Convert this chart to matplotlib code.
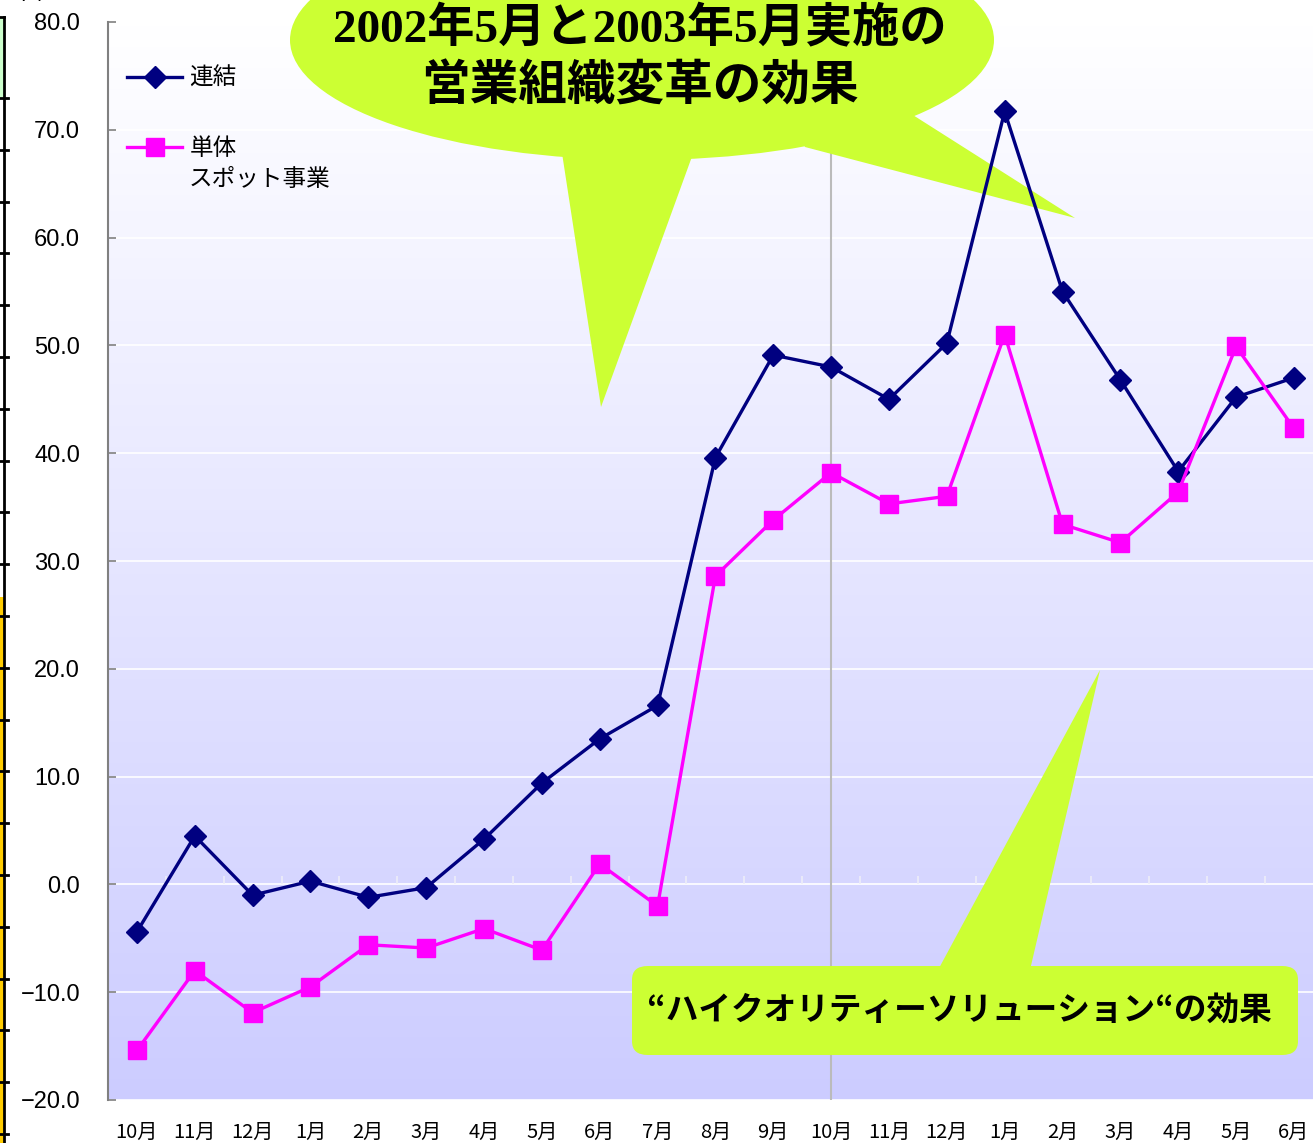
import matplotlib
matplotlib.use("Agg")
import matplotlib.pyplot as plt
import numpy as np
from matplotlib.patches import Ellipse, Polygon, FancyBboxPatch, Rectangle
from matplotlib.lines import Line2D

# ---- data ----
months = ["10月", "11月", "12月", "1月", "2月", "3月", "4月", "5月", "6月", "7月",
          "8月", "9月", "10月", "11月", "12月", "1月", "2月", "3月", "4月", "5月", "6月"]
consolidated = [-4.4, 4.5, -1.0, 0.3, -1.2, -0.3, 4.2, 9.4, 13.5, 16.6,
                39.6, 49.1, 48.0, 45.0, 50.2, 71.7, 55.0, 46.8, 38.3, 45.2, 47.0]
spot = [-15.4, -8.0, -11.9, -9.5, -5.6, -5.9, -4.1, -6.1, 1.9, -2.0,
        28.6, 33.8, 38.2, 35.3, 36.0, 51.0, 33.4, 31.7, 36.4, 49.9, 42.3]
yticks = [-20, -10, 0, 10, 20, 30, 40, 50, 60, 70, 80]
label_consolidated = "連結"
label_spot = "単体"
label_spot2 = "スポット事業"
callout_top = ["2002年5月と2003年5月実施の", "営業組織変革の効果"]
callout_bottom = "“ハイクオリティーソリューション“の効果"
divider_index = 12

W, H = 1313, 1143
NAVY = "#000080"
MAG = "#FF00FF"
LIME = "#CCFF33"
JP = ["Noto Sans CJK JP", "DejaVu Sans"]

def P(x, y):
    return (x / W, 1 - y / H)

fig = plt.figure(figsize=(W / 100, H / 100), dpi=100)
ax = fig.add_axes([108 / W, 1 - 1100 / H, (W - 108) / W, (1100 - 22) / H])

x = np.arange(len(months))
ax.set_xlim(-0.5, 20.33)
ax.set_ylim(-20, 80)

# gradient background
grad = np.linspace(0, 1, 256).reshape(-1, 1)
top = np.array([1.0, 1.0, 1.0])
bot = np.array([204, 204, 255]) / 255
img = top[None, None, :] * (1 - grad[:, :, None]) + bot[None, None, :] * grad[:, :, None]
ax.imshow(img, extent=[0, 1, 0, 1], transform=ax.transAxes, aspect="auto", zorder=0)

ax.set_axisbelow(True)
ax.yaxis.grid(True, color="white", lw=1.2)
ax.set_yticks(yticks)
ax.set_yticklabels([f"{v:.1f}".replace("-", "\u2212") for v in yticks],
                   fontsize=17, family=["Liberation Sans", "DejaVu Sans"])
ax.tick_params(axis="y", direction="in", length=6, width=1.2, color="#808080", pad=20)
ax.set_xticks(x)
ax.set_xticklabels(months, fontsize=14.5, family=JP)
ax.tick_params(axis="x", length=0, pad=16)
for s in ["top", "right", "bottom"]:
    ax.spines[s].set_visible(False)
ax.spines["left"].set_color("#808080")
ax.spines["left"].set_linewidth(1.5)

# category boundary ticks on zero line
ax.vlines(x[:-1] + 0.5, 0, 0.75, color="#EEEEF8", lw=1.2, zorder=1)

# divider line
ax.axvline(divider_index, color="#BBBBBB", lw=1.5, zorder=1)

# callouts
ax.add_patch(Ellipse(P(642, 40), 704 / W, 240 / H, transform=fig.transFigure,
                     color=LIME, ec="none", zorder=2, clip_on=False))
ax.add_patch(Polygon([P(560, 140), P(698, 140), P(601, 407)], closed=True,
                     transform=fig.transFigure, fc=LIME, ec="none", zorder=2, clip_on=False))
ax.add_patch(Polygon([P(800, 135), P(905, 110), P(1075, 218), P(805, 147)], closed=True,
                     transform=fig.transFigure, fc=LIME, ec="none", zorder=2, clip_on=False))
ax.add_patch(FancyBboxPatch(P(632, 1055), 666 / W, 89 / H,
                            boxstyle="round,pad=0,rounding_size=0.012",
                            transform=fig.transFigure, fc=LIME, ec="none", zorder=2, clip_on=False))
ax.add_patch(Polygon([P(938, 970), P(1030, 970), P(1100, 670)], closed=True,
                     transform=fig.transFigure, fc=LIME, ec="none", zorder=2, clip_on=False))

ax.text(*P(640, 30), callout_top[0], transform=fig.transFigure, ha="center", va="center",
        fontsize=34, fontweight="bold", family=["Liberation Serif", "Noto Sans CJK JP"], zorder=3)
ax.text(*P(640, 86), callout_top[1], transform=fig.transFigure, ha="center", va="center",
        fontsize=35, fontweight="bold", family=JP, zorder=3)
ax.text(*P(959, 1010), callout_bottom, transform=fig.transFigure, ha="center", va="center",
        fontsize=23.5, fontweight="bold", family=JP, zorder=3)

# data lines
l1, = ax.plot(x, consolidated, color=NAVY, lw=2.4, marker="D", ms=11, zorder=4)
l2, = ax.plot(x, spot, color=MAG, lw=2.4, marker="s", ms=13, zorder=4)

leg = ax.legend([l1, l2], [label_consolidated, label_spot], loc="upper left",
                bbox_to_anchor=P(127, 67), bbox_transform=fig.transFigure,
                frameon=False, prop={"family": JP, "size": 17},
                handlelength=2.35, handletextpad=0.3, labelspacing=2.0, borderpad=0,
                borderaxespad=0)
leg.set_zorder(5)
ax.text(*P(189, 179), label_spot2, transform=fig.transFigure, ha="left", va="center",
        fontsize=17, family=JP, zorder=5)

# left-edge remnants of neighbouring chart
fig.add_artist(Rectangle(P(0, 98), 4 / W, 81 / H, transform=fig.transFigure,
                         fc="#CCFFCC", ec="none"))
fig.add_artist(Rectangle(P(0, 1143), 4 / W, (1143 - 597) / H, transform=fig.transFigure,
                         fc="#FFCC00", ec="none"))
fig.add_artist(Line2D([4 / W, 4 / W], [P(0, 17)[1], 0], transform=fig.transFigure,
                      color="black", lw=2))
fig.add_artist(Line2D([0, 4 / W], [P(0, 17)[1]] * 2, transform=fig.transFigure,
                      color="black", lw=2))
for yy in np.arange(98, 1143, 51.8):
    fig.add_artist(Line2D([0, 8 / W], [P(0, yy)[1]] * 2, transform=fig.transFigure,
                          color="black", lw=2))
fig.text(*P(12, 4), "単位%", ha="left", va="bottom", fontsize=17, family=JP)

fig.savefig("out.png", dpi=100)
